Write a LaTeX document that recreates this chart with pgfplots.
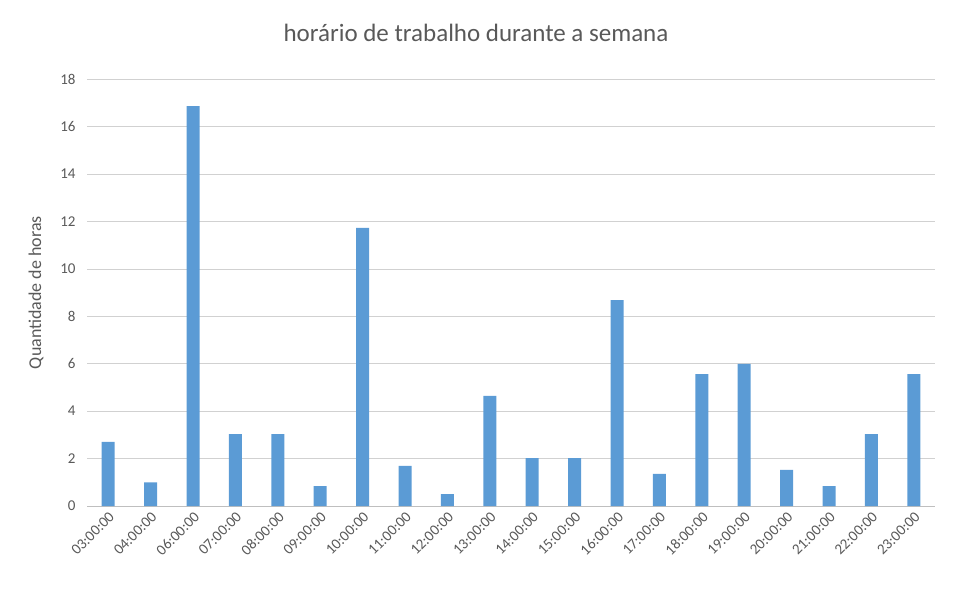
\documentclass[border=0pt]{standalone}
\usepackage{pgfplots}
\pgfplotsset{compat=1.18}
\usepackage{fontspec}
\setmainfont{Carlito}
\definecolor{bar}{HTML}{5B9BD5}
\definecolor{txt}{HTML}{595959}
\begin{document}
\begin{tikzpicture}
\useasboundingbox (0,0) rectangle (958pt,590pt);
\node[text=txt,font=\fontsize{25}{29}\selectfont] at (476pt,557pt) {horário de trabalho durante a semana};
\begin{axis}[at={(87pt,84pt)},anchor=south west,scale only axis,width=848pt,height=427pt,
 ymin=0,ymax=18,ytick={0,2,...,18},xmin=-0.5,xmax=19.5,
 xtick={0,...,19},xticklabels={03:00:00,04:00:00,06:00:00,07:00:00,08:00:00,09:00:00,10:00:00,11:00:00,12:00:00,13:00:00,14:00:00,15:00:00,16:00:00,17:00:00,18:00:00,19:00:00,20:00:00,21:00:00,22:00:00,23:00:00},
 x tick label style={rotate=45,anchor=north east,font=\fontsize{15}{17}\selectfont,text=txt},
 y tick label style={font=\fontsize{15}{17}\selectfont,text=txt},
 yticklabel style={xshift=-8pt},
 /pgf/number format/assume math mode=true,
 ymajorgrids,grid style={draw=black!18},
 axis line style={draw=none},axis x line*=bottom,
 major tick length=0pt,
 ylabel={Quantidade de horas},ylabel style={font=\fontsize{18}{20}\selectfont,text=txt,yshift=10pt},
 ]
\draw[black!25] (axis cs:-0.5,0) -- (axis cs:19.5,0);
\addplot[ybar,bar width=13pt,fill=bar,draw=none] coordinates {
(0,2.7)(1,1.0)(2,16.86)(3,3.03)(4,3.03)(5,0.84)(6,11.72)(7,1.69)(8,0.5)(9,4.64)
(10,2.02)(11,2.02)(12,8.68)(13,1.35)(14,5.56)(15,5.99)(16,1.52)(17,0.84)(18,3.03)(19,5.56)};
\end{axis}
\end{tikzpicture}
\end{document}
